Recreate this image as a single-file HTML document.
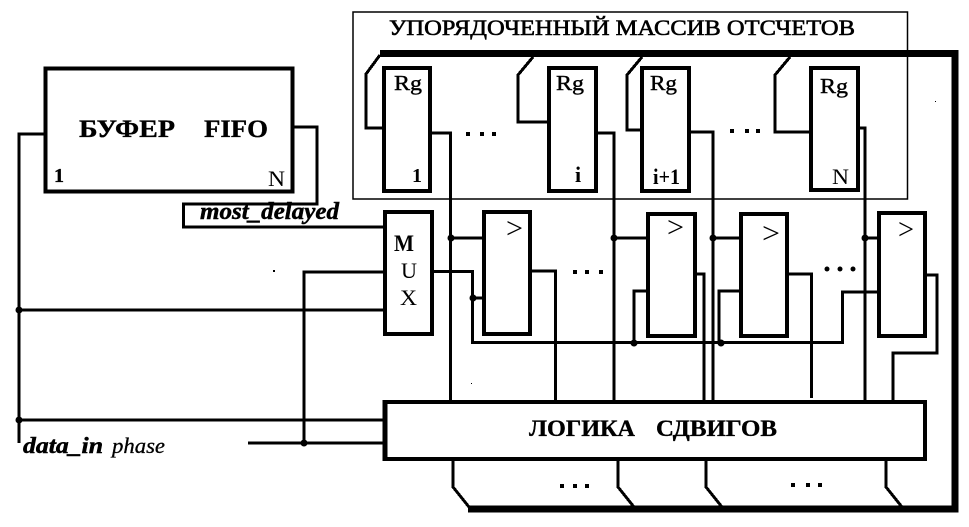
<!DOCTYPE html>
<html>
<head>
<meta charset="utf-8">
<style>
html,body{margin:0;padding:0;background:#fff;}
svg{display:block;}
text{font-family:"Liberation Serif","Noto Serif CJK SC",serif;fill:#000;}
.b{font-weight:bold;stroke:#000;stroke-width:.35px;}
.bs{font-weight:bold;}
.bi{font-weight:bold;font-style:italic;stroke:#000;stroke-width:.5px;}
.w{fill:none;stroke:#000;stroke-width:3;shape-rendering:crispEdges;}
.w3{fill:none;stroke:#000;stroke-width:3;shape-rendering:crispEdges;}
.r{fill:#fff;stroke:#000;stroke-width:4;shape-rendering:crispEdges;}
.bus{fill:none;stroke:#000;stroke-width:7;shape-rendering:crispEdges;}
</style>
</head>
<body>
<svg width="969" height="527" viewBox="0 0 969 527" xmlns="http://www.w3.org/2000/svg">
<rect width="969" height="527" fill="#fff"/>

<!-- outer thin frame -->
<rect x="353" y="12" width="554.5" height="187" fill="none" stroke="#000" stroke-width="1.5"/>

<!-- main bus -->
<path class="bus" d="M380 53.5H955V509H468"/>

<!-- clock hooks top -->
<path class="w3" d="M380 55L366 74V128H384"/>
<path class="w3" d="M533 57L518 75V122H549"/>
<path class="w3" d="M642 57L627 75V130H642"/>
<path class="w3" d="M790 57L775 75V132H811"/>

<!-- register outputs -->
<path class="w" d="M430 133H450.5V400"/>
<path class="w" d="M596 133H614V400"/>
<path class="w" d="M689 132H713V400"/>
<path class="w" d="M855 128H865V400"/>

<!-- registers -->
<rect class="r" x="384" y="68" width="46" height="123"/>
<rect class="r" x="549" y="68" width="47" height="123"/>
<rect class="r" x="642" y="68" width="47" height="123"/>
<rect class="r" x="811" y="68" width="47" height="122"/>

<!-- FIFO wires -->
<path class="w3" d="M294 127H317V204H183.500V227H385"/>
<path class="w3" d="M44 134H19V443"/>
<path class="w3" d="M19 310H385"/>
<path class="w3" d="M19 420H385"/>
<path class="w3" d="M304 443V272H385"/>
<path class="w3" d="M248 443H385"/>

<!-- MUX output and comparator inputs -->
<path class="w" d="M434 271.500H472.500V342.500H842.500V292H877"/>
<path class="w" d="M472.500 298H484"/>
<path class="w" d="M634 342.500V291H648"/>
<path class="w" d="M719 342.500V291H741"/>
<path class="w" d="M451 238H484"/>
<path class="w" d="M614 238H648"/>
<path class="w" d="M713 238H741"/>
<path class="w" d="M865 238H879"/>

<!-- comparator outputs -->
<path class="w" d="M530 271H555.500V400"/>
<path class="w" d="M695 274H704V400"/>
<path class="w" d="M787 274H811.500V398"/>
<path class="w" d="M925 275H937V353H893V400"/>

<!-- blocks -->
<rect x="45.500" y="68.500" width="247" height="123" fill="#fff" stroke="#000" stroke-width="4" shape-rendering="crispEdges"/>
<rect class="r" x="385" y="212" width="47" height="122"/>
<rect class="r" x="484" y="212" width="46" height="122"/>
<rect class="r" x="648" y="214" width="47" height="122"/>
<rect class="r" x="741" y="214" width="46" height="122"/>
<rect class="r" x="879" y="213" width="46" height="123"/>
<rect x="385" y="402" width="540" height="57" fill="#fff" stroke="#000" stroke-width="4" shape-rendering="crispEdges"/>
<path d="M385 400V461" stroke="#000" stroke-width="5" fill="none" shape-rendering="crispEdges"/>

<!-- bottom taps -->
<path class="w3" d="M453 461V487L469 507"/>
<path class="w3" d="M618 461V487L634 507"/>
<path class="w3" d="M706 461V487L722 507"/>
<path class="w3" d="M886 461V487L902 507"/>

<!-- junction dots -->
<g fill="#000">
<circle cx="19" cy="310" r="3.500"/><circle cx="19" cy="420" r="3.500"/>
<circle cx="304" cy="443" r="3.500"/>
<circle cx="451" cy="238" r="3.500"/><circle cx="614" cy="238" r="3.500"/>
<circle cx="713" cy="238" r="3.500"/><circle cx="865" cy="238" r="3.500"/>
<circle cx="473" cy="298" r="3.500"/>
<circle cx="634" cy="343" r="3.500"/><circle cx="721" cy="343" r="3.500"/>
<!-- ellipsis marks -->
<rect x="466" y="132" width="4" height="4"/><rect x="480" y="132" width="4" height="4"/><rect x="492" y="132" width="4" height="4"/>
<rect x="730" y="129" width="4" height="4"/><rect x="745" y="129" width="4" height="4"/><rect x="756" y="129" width="4" height="4"/>
<rect x="573" y="270" width="4" height="4"/><rect x="585" y="270" width="4" height="4"/><rect x="599" y="270" width="4" height="4"/>
<circle cx="827" cy="269" r="2.500"/><circle cx="840" cy="269" r="2.500"/><circle cx="853" cy="269" r="2.500"/>
<rect x="560" y="484" width="4" height="4"/><rect x="573" y="484" width="4" height="4"/><rect x="585" y="484" width="4" height="4"/>
<rect x="791" y="483" width="4" height="4"/><rect x="806" y="483" width="4" height="4"/><rect x="818" y="483" width="4" height="4"/>
<!-- specks -->
<rect x="935" y="101" width="1" height="1"/><rect x="471" y="383" width="1" height="1"/><rect x="273" y="270" width="2" height="2"/>
</g>

<!-- labels -->
<text x="389" y="35" font-size="22" textLength="466" lengthAdjust="spacingAndGlyphs" stroke="#000" stroke-width=".6">УПОРЯДОЧЕННЫЙ МАССИВ ОТСЧЕТОВ</text>

<text class="b" x="79" y="137" font-size="25" textLength="96" lengthAdjust="spacingAndGlyphs">БУФЕР</text>
<text class="b" x="204" y="137" font-size="25" textLength="64" lengthAdjust="spacingAndGlyphs">FIFO</text>
<text class="b" x="54" y="182" font-size="20">1</text>
<text x="268" y="186" font-size="22" textLength="17" lengthAdjust="spacingAndGlyphs">N</text>

<text class="bi" x="200" y="219" font-size="24" textLength="139" lengthAdjust="spacingAndGlyphs">most_delayed</text>
<text class="bi" x="23" y="453" font-size="23" textLength="80" lengthAdjust="spacingAndGlyphs">data_in</text>
<text x="112" y="453" font-size="22" textLength="53" lengthAdjust="spacingAndGlyphs" style="font-style:italic;stroke:#000;stroke-width:.3px">phase</text>

<text x="394" y="90" font-size="21" textLength="28" lengthAdjust="spacingAndGlyphs" stroke="#000" stroke-width=".4">Rg</text>
<text x="556" y="90" font-size="21" textLength="28" lengthAdjust="spacingAndGlyphs" stroke="#000" stroke-width=".4">Rg</text>
<text x="650" y="90" font-size="21" textLength="27" lengthAdjust="spacingAndGlyphs" stroke="#000" stroke-width=".4">Rg</text>
<text x="820" y="93" font-size="21" textLength="28" lengthAdjust="spacingAndGlyphs" stroke="#000" stroke-width=".4">Rg</text>

<text class="bs" x="412" y="182" font-size="20">1</text>
<text class="bs" x="575" y="182" font-size="22">i</text>
<text class="bs" x="653" y="184" font-size="22" textLength="27" lengthAdjust="spacingAndGlyphs">i+1</text>
<text x="832" y="184" font-size="22" textLength="17" lengthAdjust="spacingAndGlyphs">N</text>

<text class="bs" x="394" y="251" font-size="23" textLength="20" lengthAdjust="spacingAndGlyphs">M</text>
<text x="401" y="278" font-size="22" textLength="16" lengthAdjust="spacingAndGlyphs">U</text>
<text x="400" y="305" font-size="22" textLength="17" lengthAdjust="spacingAndGlyphs">X</text>

<text x="506" y="238" font-size="30" textLength="17" lengthAdjust="spacingAndGlyphs">&gt;</text>
<text x="667" y="237" font-size="30" textLength="17" lengthAdjust="spacingAndGlyphs">&gt;</text>
<text x="762" y="243" font-size="30" textLength="18" lengthAdjust="spacingAndGlyphs">&gt;</text>
<text x="898" y="239" font-size="30" textLength="16" lengthAdjust="spacingAndGlyphs">&gt;</text>

<text class="b" x="529" y="436" font-size="23" textLength="106" lengthAdjust="spacingAndGlyphs">ЛОГИКА</text>
<text class="b" x="656" y="436" font-size="23" textLength="121" lengthAdjust="spacingAndGlyphs">СДВИГОВ</text>
</svg>
</body>
</html>
